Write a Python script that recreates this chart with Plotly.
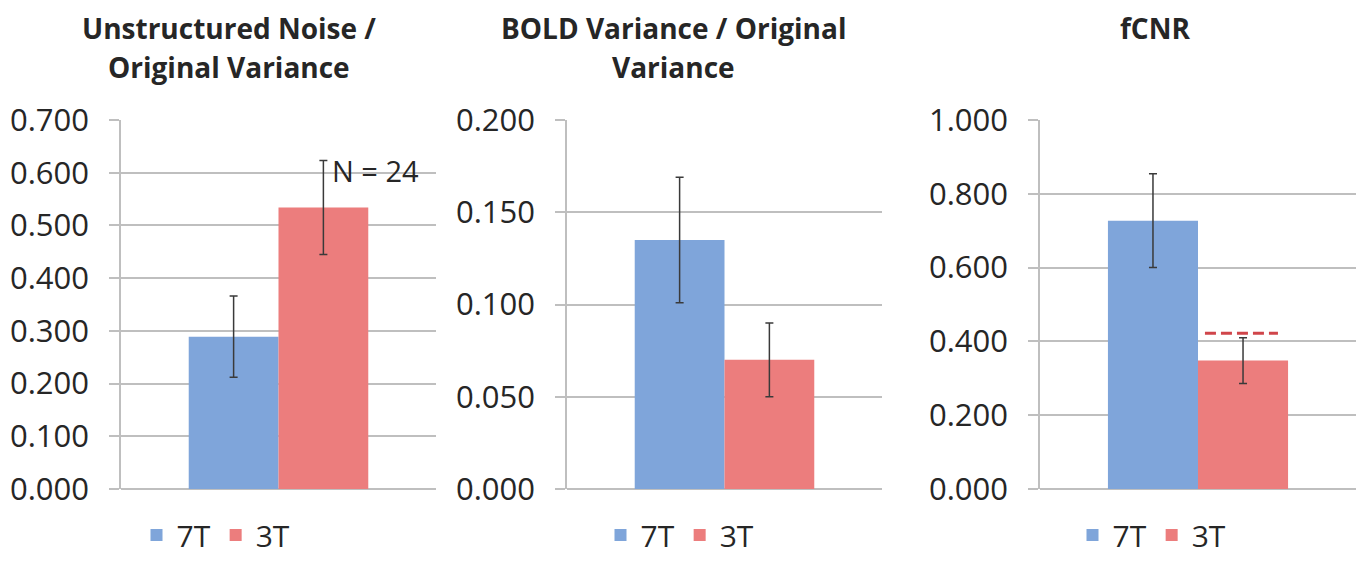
import plotly.graph_objects as go

# ---- data ----
series_names = ["7T", "3T"]
panel_titles = [
    ["Unstructured Noise /", "Original Variance"],
    ["BOLD Variance / Original", "Variance"],
    ["fCNR"],
]
noise_ratio = [0.289, 0.534]
noise_ratio_err = [0.077, 0.089]
bold_ratio = [0.135, 0.070]
bold_ratio_err = [0.034, 0.020]
fcnr = [0.727, 0.348]
fcnr_err = [0.127, 0.062]
fcnr_3t_reference = 0.422
n_subjects_label = "N = 24"
y_ranges = [[0, 0.7], [0, 0.2], [0, 1.0]]
y_dticks = [0.1, 0.05, 0.2]

values = [noise_ratio, bold_ratio, fcnr]
errors = [noise_ratio_err, bold_ratio_err, fcnr_err]

# ---- style ----
W, H = 1361, 561
bar_colors = ["#7fa5da", "#ec7d7d"]
grid_col = "#bfbfbf"
text_col = "#262626"
FONT = "Open Sans"

x_domains = [[121 / W, 436 / W], [567 / W, 882 / W], [1040 / W, 1356 / W]]
y_domain = [1 - 489 / H, 1 - 120 / H]
title_x = [229 / W, 673 / W, 1155 / W]
legend_x = [216 / W, 680 / W, 1152 / W]
legend_names = ["legend", "legend2", "legend3"]

fig = go.Figure()

for p in range(3):
    xa = "x" if p == 0 else f"x{p+1}"
    ya = "y" if p == 0 else f"y{p+1}"
    for s in range(2):
        fig.add_trace(go.Bar(
            x=[0], y=[values[p][s]], name=series_names[s],
            xaxis=xa, yaxis=ya, legend=legend_names[p],
            marker=dict(color=bar_colors[s], line=dict(width=0)),
            error_y=dict(type="data", array=[errors[p][s]], visible=True,
                         color="#3a3a3a", thickness=1.5, width=4),
            offsetgroup=str(s),
        ))

layout = dict(
    width=W, height=H,
    margin=dict(l=0, r=0, t=0, b=0, autoexpand=False),
    paper_bgcolor="white", plot_bgcolor="white",
    barmode="group", bargap=0.43, bargroupgap=0,
    font=dict(family=FONT, color=text_col),
    showlegend=True,
)

for p in range(3):
    sx = "" if p == 0 else str(p + 1)
    layout[f"xaxis{sx}"] = dict(
        domain=x_domains[p], range=[-0.5, 0.5], anchor=f"y{sx}",
        showticklabels=False, showgrid=False, zeroline=False,
        showline=False, ticks="", fixedrange=True,
    )
    layout[f"yaxis{sx}"] = dict(
        domain=y_domain, range=y_ranges[p], dtick=y_dticks[p], tick0=0,
        anchor=f"x{sx}", tickformat=".3f",
        showgrid=True, gridcolor=grid_col, gridwidth=1.5,
        zeroline=True, zerolinecolor=grid_col, zerolinewidth=1.5,
        showline=True, linecolor=grid_col, linewidth=1.5,
        ticks="outside", ticklen=10, tickcolor=grid_col, tickwidth=1.5,
        ticklabelstandoff=14,
        tickfont=dict(family=FONT, size=31, color=text_col),
        fixedrange=True,
    )
    layout[legend_names[p]] = dict(
        orientation="h", x=legend_x[p], xanchor="center",
        y=0, yanchor="bottom",
        font=dict(family=FONT, size=30, color=text_col),
        bgcolor="rgba(0,0,0,0)", borderwidth=0,
        itemclick=False, itemdoubleclick=False,
        tracegroupgap=0, itemwidth=30,
    )

fig.update_layout(**layout)

# titles
line_y = [28, 67]
for p in range(3):
    for i, line in enumerate(panel_titles[p]):
        fig.add_annotation(
            text=f"<b>{line}</b>", x=title_x[p], y=1 - line_y[i] / H,
            xref="paper", yref="paper", xanchor="center", yanchor="middle",
            showarrow=False, font=dict(family=FONT, size=28, color=text_col),
        )

# N = 24 label
fig.add_annotation(
    text=n_subjects_label, x=330 / W, y=0.605, xref="paper", yref="y",
    xanchor="left", yanchor="middle", showarrow=False,
    font=dict(family=FONT, size=29, color=text_col),
)

# dashed reference line over 3T fCNR bar
fig.add_shape(
    type="line", xref="x3", yref="y3", x0=0.022, x1=0.253,
    y0=fcnr_3t_reference, y1=fcnr_3t_reference,
    line=dict(color="#d0454a", width=3, dash="11px,5px"),
)

fig.write_html("out.html")
